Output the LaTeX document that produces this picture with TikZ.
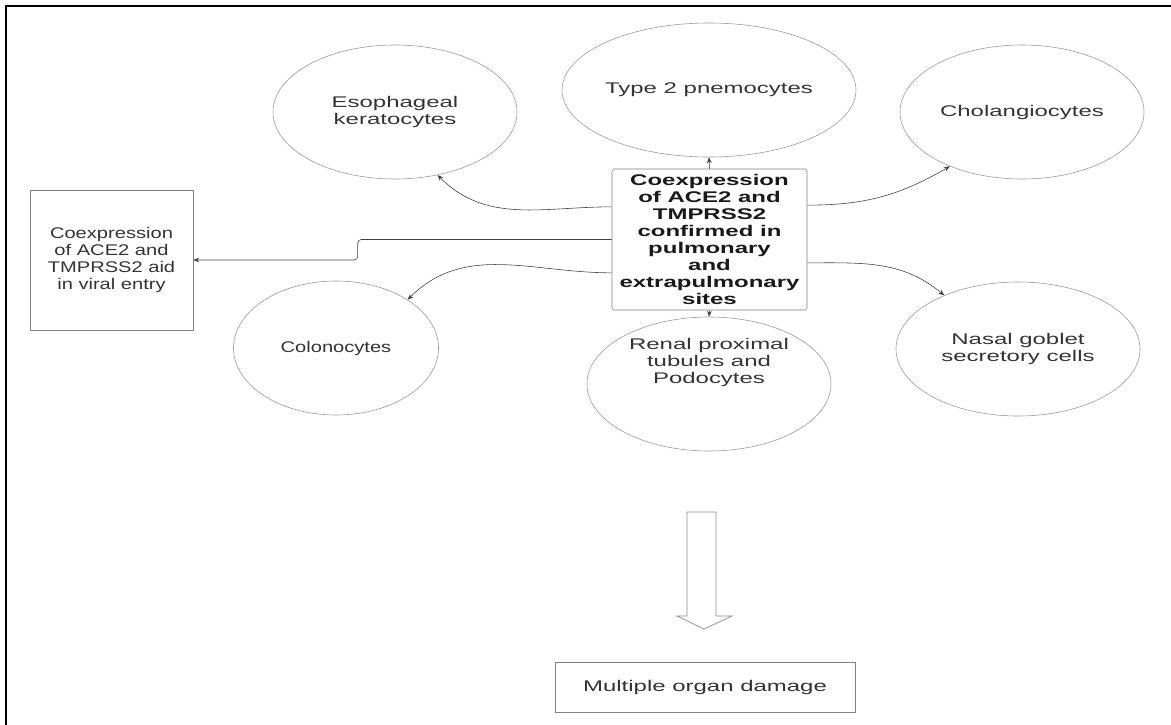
\documentclass[tikz,border=0pt]{standalone}
\usepackage{fontspec}
\setmainfont{Liberation Sans}[FakeStretch=1.55]
\newfontfamily\narrowsans{Liberation Sans}[FakeStretch=1.3]
\usepackage{tikz}
\usetikzlibrary{shapes.geometric, arrows.meta}
\tikzset{every picture/.append style={x=0.03cm, y=-0.03cm}}
\tikzset{
    cell/.style={ellipse, draw=black!40, line width=0.5pt, inner sep=0pt,
    	minimum width=7.32cm, minimum height=4.02cm, align=center,
    	text=black!80, font=\fontsize{13.2}{14.5}\selectfont},
    textbox/.style={rectangle, draw=black!50, line width=0.5pt, inner sep=0pt,
    	align=center, text=black!80, font=\fontsize{13.2}{14.5}\selectfont},
    link/.style={draw=black!75, line width=0.5pt,
    	-{Stealth[length=5pt, width=4pt]}}
}

\begin{document}
\begin{tikzpicture}
  \useasboundingbox (0,0) rectangle (1171,725);
  \draw [line width=1.6pt] (6,725) -- (6,6) -- (1171,6);

  \node (esoph) [cell] at (395, 112) {Esophageal\\keratocytes};
  \node (type2) [cell] at (709, 90) {Type 2 pnemocytes};
  \node (chol) [cell] at (1022, 112) {Cholangiocytes};
  \node (colon) [cell, minimum width=6.15cm,
    font=\fontsize{13.2}{14.5}\narrowsans] at (336, 348) {Colonocytes};
  \node (renal) [cell] at (709, 384) {Renal proximal\\tubules and\\Podocytes\\[0.9cm]};
  \node (nasal) [cell] at (1018, 349) {Nasal goblet\\secretory cells};

  \node (coexp) [textbox, rounded corners=1.5pt, minimum width=5.85cm,
    minimum height=4.23cm, text=black!90,
    font=\fontsize{13.2}{14.5}\selectfont\bfseries] at (709.5, 239.5)
    {Coexpression\\of ACE2 and\\TMPRSS2\\confirmed in\\pulmonary\\and\\extrapulmonary\\sites};
  \node (aid) [textbox, minimum width=4.89cm, minimum height=4.2cm,
    font=\fontsize{13.2}{14.5}\narrowsans]
    at (111.5, 260) {Coexpression\\of ACE2 and\\TMPRSS2 aid\\in viral entry};
  \node (damage) [textbox, minimum width=9cm, minimum height=1.5cm]
    at (705, 687) {Multiple organ damage};

  \draw (coexp.north) edge [link] (type2.south);
  \draw (coexp.south) edge [link] (renal.north);

  \draw ([yshift=0.98cm]coexp.west) edge [link, out=180, in=-45] (esoph.-56);
  \draw ([yshift=1.03cm]coexp.east) edge [link, out=0, in=-150] (chol.-143);
  \draw ([yshift=-1.0cm]coexp.west) edge [link, out=180, in=45] (colon.34);
  \draw ([yshift=-0.7cm]coexp.east) edge [link, out=0, in=140] (nasal.144);

  \draw [link, rounded corners=3pt] (coexp.west) -- ++(-254,0) |- (aid.east);

  % hollow arrow down to the damage box
  \draw [draw=black!45, line width=0.6pt] (687,512) -- (687,616) -- (677,616)
    -- (704,629) -- (732,616) -- (716,616) -- (716,512) -- cycle;
\end{tikzpicture}
\end{document}
